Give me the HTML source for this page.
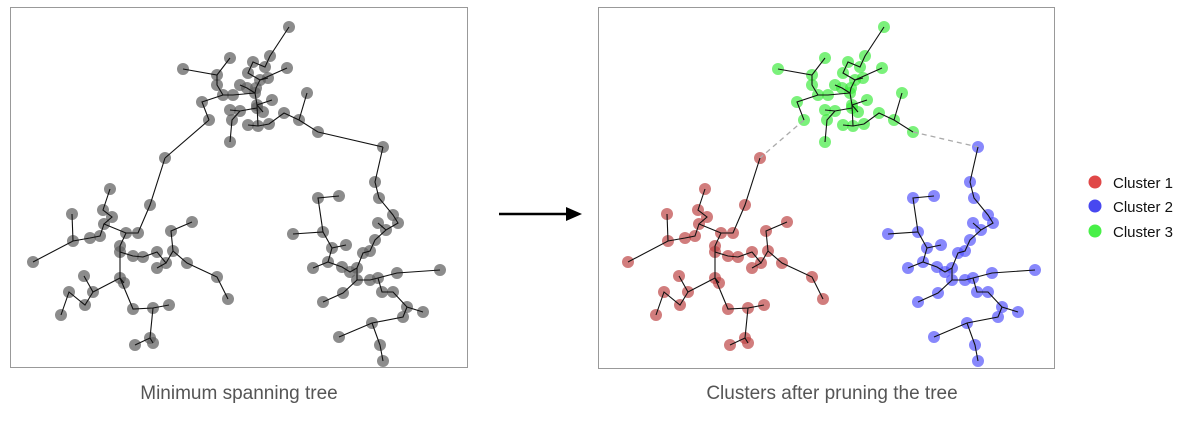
<!DOCTYPE html>
<html><head><meta charset="utf-8"><style>
body{margin:0;background:#fff;width:1180px;height:416px;overflow:hidden;font-family:"Liberation Sans",sans-serif}
</style></head><body>
<svg id="s" width="1180" height="416" xmlns="http://www.w3.org/2000/svg">
<rect x="10.5" y="7.5" width="457" height="360" fill="none" stroke="#999" stroke-width="1"/>
<rect x="598.5" y="7.5" width="456" height="361" fill="none" stroke="#999" stroke-width="1"/>
<line x1="499" y1="214" x2="570" y2="214" stroke="#000" stroke-width="2.5"/>
<polygon points="582,214 566,207 566,221" fill="#000"/>
<text x="239" y="399" text-anchor="middle" font-size="19" fill="#555">Minimum spanning tree</text>
<text x="832" y="399" text-anchor="middle" font-size="19" fill="#555">Clusters after pruning the tree</text>
<circle cx="1095" cy="182" r="6.5" fill="#e04848"/>
<circle cx="1095" cy="206" r="6.5" fill="#4848f0"/>
<circle cx="1095" cy="231" r="6.5" fill="#48f048"/>
<text x="1113" y="188" font-size="15" fill="#111">Cluster 1</text>
<text x="1113" y="212" font-size="15" fill="#111">Cluster 2</text>
<text x="1113" y="237" font-size="15" fill="#111">Cluster 3</text>
<g id="L"></g><g id="R"></g>
</svg>
<script>
var C={
g:[[[289,27],[270,56],[265,67],[253,62],[248,73],[260,80],[256,88],[255,93],[257,105],[258,126]],
[[287,68],[260,80]],[[268,78],[260,80]],
[[183,69],[217,75],[230,58]],
[[217,75],[217,85],[223,95],[233,95],[255,93]],
[[240,85],[247,88],[255,93]],
[[223,95],[202,102],[209,120]],
[[272,100],[257,105]],[[263,112],[257,105]],
[[230,110],[240,111],[257,108]],
[[240,111],[232,120],[230,142]],
[[248,125],[258,126],[269,124],[284,113],[299,120],[318,132]],
[[307,93],[299,120]]],
r:[[[165,158],[150,205],[138,233],[126,233],[120,246],[120,252],[133,256],[143,257],[157,252],[166,263],[157,268]],
[[166,263],[173,251],[171,231],[192,222]],
[[173,251],[187,263],[217,277],[228,299]],
[[126,233],[104,224],[112,217],[103,210],[110,189]],
[[104,224],[100,236],[90,238],[73,241],[33,262]],
[[73,241],[72,214]],
[[120,252],[120,278],[124,283]],
[[120,278],[93,292],[84,276]],
[[93,292],[85,305],[69,292],[61,315]],
[[120,278],[133,309],[153,308],[169,305]],
[[153,308],[150,338],[153,343]],[[150,338],[135,345]]],
b:[[[383,147],[375,182],[379,198],[393,215],[398,223],[386,230],[378,223]],
[[386,230],[375,240],[370,251],[363,253],[357,268],[357,280],[370,280],[378,278],[397,273],[440,270]],
[[357,268],[350,272],[342,267],[328,262],[313,268]],
[[328,262],[332,248],[346,245]],
[[332,248],[323,232],[293,234]],[[323,232],[318,198],[339,196]],
[[357,280],[343,293],[323,302]],
[[378,278],[382,292],[393,292],[407,307],[423,312]],
[[407,307],[403,317],[372,323],[339,337]],
[[372,323],[380,345],[383,361]]]};
var col={g:"rgba(60,235,60,0.68)",r:"rgba(190,70,70,0.7)",b:"rgba(80,80,250,0.68)"};
function draw(gid,dx,dy,colored){
 var h="",n="",seen={};
 if(colored){
  h+='<line x1="'+(209+dx)+'" y1="'+(120+dy)+'" x2="'+(165+dx)+'" y2="'+(158+dy)+'" stroke="#aaa" stroke-width="1.3" stroke-dasharray="5,4"/>';
  h+='<line x1="'+(318+dx)+'" y1="'+(132+dy)+'" x2="'+(383+dx)+'" y2="'+(147+dy)+'" stroke="#aaa" stroke-width="1.3" stroke-dasharray="5,4"/>';
 } else {
  h+='<line x1="209" y1="120" x2="165" y2="158" stroke="#111" stroke-width="1.1"/>';
  h+='<line x1="318" y1="132" x2="383" y2="147" stroke="#111" stroke-width="1.1"/>';
 }
 for(var k in C){C[k].forEach(function(ch){
  var p=ch.map(function(q){return (q[0]+dx)+","+(q[1]+dy)}).join(" ");
  h+='<polyline points="'+p+'" fill="none" stroke="#111" stroke-width="1.1"/>';
  ch.forEach(function(q){var key=q[0]+"_"+q[1];if(seen[key])return;seen[key]=1;
   n+='<circle cx="'+(q[0]+dx)+'" cy="'+(q[1]+dy)+'" r="6" fill="'+(colored?col[k]:"rgba(95,95,95,0.72)")+'"/>';});
 });}
 document.getElementById(gid).innerHTML=n+h;
}
draw("L",0,0,false);
draw("R",595,0,true);
</script>
</body></html>
